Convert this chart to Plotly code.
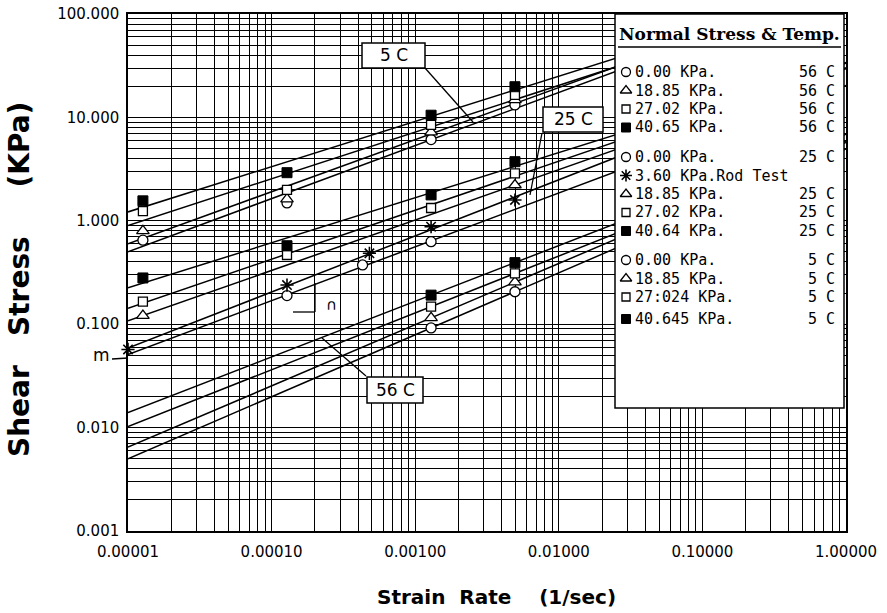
import numpy as np
import plotly.graph_objects as go

# ---------------- data ----------------
# 56 C
x_56 = [1.29e-3, 4.95e-3]
y_56_000 = [0.092, 0.206]
y_56_1885 = [0.115, 0.255]
y_56_2702 = [0.148, 0.310]
y_56_4065 = [0.191, 0.394]

# 25 C
x_25_000 = [1.28e-4, 4.3e-4, 1.29e-3]
y_25_000 = [0.189, 0.374, 0.628]
x_25_rod = [1.0e-5, 1.28e-4, 4.8e-4, 1.29e-3, 4.95e-3]
y_25_rod = [0.057, 0.239, 0.485, 0.877, 1.59]
x_25_1885 = [1.27e-5, 4.95e-3]
y_25_1885 = [0.121, 2.22]
x_25_2702 = [1.27e-5, 1.28e-4, 1.29e-3, 4.95e-3]
y_25_2702 = [0.165, 0.467, 1.33, 2.88]
x_25_4064 = [1.27e-5, 1.28e-4, 1.29e-3, 4.95e-3]
y_25_4064 = [0.28, 0.574, 1.78, 3.73]

# 5 C
x_5 = [1.27e-5, 1.28e-4, 1.29e-3, 4.95e-3]
y_5_000 = [0.65, 1.49, 6.1, 13.2]
y_5_1885 = [0.80, 1.62, 7.2, 14.8]
y_5_27024 = [1.24, 1.99, 8.45, 16.5]
y_5_40645 = [1.56, 2.92, 10.5, 19.8]

x_tick_vals = [1e-5, 1e-4, 1e-3, 1e-2, 1e-1, 1.0]
x_tick_text = ["0.00001", "0.00010", "0.00100", "0.01000", "0.10000", "1.00000"]
y_tick_vals = [1e-3, 1e-2, 1e-1, 1.0, 10.0, 100.0]
y_tick_text = ["0.001", "0.010", "0.100", "1.000", "10.000", "100.000"]

legend_labels = [
    ("0.00 KPa.", "56 C"), ("18.85 KPa.", "56 C"), ("27.02 KPa.", "56 C"), ("40.65 KPa.", "56 C"),
    ("0.00 KPa.", "25 C"), ("3.60 KPa.Rod Test", ""), ("18.85 KPa.", "25 C"), ("27.02 KPa.", "25 C"),
    ("40.64 KPa.", "25 C"),
    ("0.00 KPa.", "5 C"), ("18.85 KPa.", "5 C"), ("27:024 KPa.", "5 C"), ("40.645 KPa.", "5 C"),
]

# ---------------- styles ----------------
W, H = 887, 613
L, R, T, B = 128, 846, 14, 531

def fx(px):
    return (px - L) / (R - L)

def fy(py):
    return (B - py) / (B - T)

sty = {
    "o": dict(symbol="circle", size=10, color="white", line=dict(color="black", width=1.3)),
    "t": dict(symbol="triangle-up", size=11, color="white", line=dict(color="black", width=1.3)),
    "s": dict(symbol="square", size=9, color="white", line=dict(color="black", width=1.3)),
    "f": dict(symbol="square", size=10, color="black", line=dict(color="black", width=1)),
    "a": dict(symbol="asterisk-open", size=11, color="black", line=dict(color="black", width=1.6)),
}

series = [
    (x_56, y_56_000, "o"), (x_56, y_56_1885, "t"), (x_56, y_56_2702, "s"), (x_56, y_56_4065, "f"),
    (x_25_000, y_25_000, "o"), (x_25_rod, y_25_rod, "a"), (x_25_1885, y_25_1885, "t"),
    (x_25_2702, y_25_2702, "s"), (x_25_4064, y_25_4064, "f"),
    (x_5, y_5_000, "o"), (x_5, y_5_1885, "t"), (x_5, y_5_27024, "s"), (x_5, y_5_40645, "f"),
]

fig = go.Figure()

# fitted power-law lines (regression in log-log space)
x_line = np.array([1e-5, 1.0])
for xs, ys, _ in series:
    k, c = np.polyfit(np.log10(xs), np.log10(ys), 1)
    fig.add_trace(go.Scatter(x=x_line, y=10 ** (k * np.log10(x_line) + c), mode="lines",
                             line=dict(color="black", width=1.5), showlegend=False,
                             hoverinfo="skip"))

# data markers
for xs, ys, m in series:
    fig.add_trace(go.Scatter(x=xs, y=ys, mode="markers", marker=sty[m], showlegend=False,
                             cliponaxis=False))

# legend box on a pixel-coordinate overlay
LX0, LX1, LY0, LY1 = 615, 844, 14, 408
fig.add_trace(go.Scatter(x=[LX0, LX1, LX1, LX0, LX0], y=[LY0, LY0, LY1, LY1, LY0],
                         xaxis="x2", yaxis="y2", mode="lines", fill="toself",
                         fillcolor="white", line=dict(color="black", width=1.5),
                         showlegend=False, hoverinfo="skip"))
leg_y = [72, 90.5, 109, 127.5, 157, 175.5, 194, 212.5, 231, 260, 278.5, 297, 319]
leg_m = ["o", "t", "s", "f", "o", "a", "t", "s", "f", "o", "t", "s", "f"]
for yy, m in zip(leg_y, leg_m):
    mk = dict(sty[m])
    mk["size"] = mk["size"] - 1
    fig.add_trace(go.Scatter(x=[626], y=[yy], xaxis="x2", yaxis="y2", mode="markers",
                             marker=mk, showlegend=False, hoverinfo="skip"))
fig.add_trace(go.Scatter(x=[618, 841], y=[47, 47], xaxis="x2", yaxis="y2", mode="lines",
                         line=dict(color="black", width=1.3), showlegend=False,
                         hoverinfo="skip"))

tickfont = dict(family="DejaVu Sans", size=15, color="black")
lfont = dict(family="DejaVu Sans Mono", size=15, color="black")
NB = "\u00a0"

annotations = []

def ann(px, py, text, font, xanchor="center", **kw):
    d = dict(x=fx(px), y=fy(py), xref="paper", yref="paper", text=text, showarrow=False,
             xanchor=xanchor, yanchor="middle", font=font, borderpad=0)
    d.update(kw)
    annotations.append(d)

ann(729, 34, "<b>Normal Stress &amp; Temp.</b>",
    dict(family="DejaVu Serif", size=17, color="black"))
for (lt, rt), yy in zip(legend_labels, leg_y):
    ann(634, yy, lt, lfont, xanchor="left")
    if rt:
        ann(836, yy, rt, lfont, xanchor="right")

# temperature label boxes
boxes = [("5 C", 362, 425, 43, 68), ("25 C", 543, 603, 107, 132), ("56 C", 367, 423, 377, 403)]
shapes = []
for txt, x0, x1, y0, y1 in boxes:
    shapes.append(dict(type="rect", xref="paper", yref="paper", x0=fx(x0), x1=fx(x1),
                       y0=fy(y0), y1=fy(y1), fillcolor="white",
                       line=dict(color="black", width=1.5), layer="above"))
    ann((x0 + x1) / 2, (y0 + y1) / 2, txt, dict(family="DejaVu Sans", size=17, color="black"))
leaders = [(425, 68, 473, 122), (542, 133, 530, 195), (366, 376, 322, 338),
           (112, 359, 128, 358), (315, 283, 315, 312), (293, 312, 315, 312)]
for x0, y0, x1, y1 in leaders:
    shapes.append(dict(type="line", xref="paper", yref="paper", x0=fx(x0), y0=fy(y0),
                       x1=fx(x1), y1=fy(y1), line=dict(color="black", width=1.3),
                       layer="above"))
ann(101, 355, "m", dict(family="DejaVu Sans", size=17, color="black"))
ann(331, 305, "∩", dict(family="DejaVu Sans", size=15, color="black"))

# axis titles
ann(20, 280, "<b>Shear" + NB * 3 + "Stress" + NB * 5 + "(KPa)</b>",
    dict(family="DejaVu Sans", size=28, color="black"), textangle=-90)
ann(496, 597, "<b>Strain" + NB * 2 + "Rate" + NB * 4 + "(1/sec)</b>",
    dict(family="DejaVu Sans", size=20, color="black"))

def grid_vals(lo, hi):
    v = []
    for e in range(lo, hi):
        for k in range(1, 10):
            v.append(k * 10.0 ** e)
    v.append(10.0 ** hi)
    return v

gx = grid_vals(-5, 0)
gy = grid_vals(-3, 2)
xt = [x_tick_text[x_tick_vals.index(v)] if v in x_tick_vals else "" for v in gx]
yt = [y_tick_text[y_tick_vals.index(v)] if v in y_tick_vals else "" for v in gy]

fig.update_layout(
    width=W, height=H,
    margin=dict(l=L, r=W - R, t=T, b=H - B, autoexpand=False),
    paper_bgcolor="white", plot_bgcolor="white",
    showlegend=False,
    xaxis=dict(type="log", range=[-5, 0], tickmode="array", tickvals=gx, ticktext=xt,
               showgrid=True, gridcolor="black", gridwidth=1, zeroline=False,
               showline=True, linecolor="black", linewidth=1.5, mirror=True,
               ticks="", tickfont=tickfont, ticklabelstandoff=6, automargin=False),
    yaxis=dict(type="log", range=[-3, 2], tickmode="array", tickvals=gy, ticktext=yt,
               showgrid=True, gridcolor="black", gridwidth=1, zeroline=False,
               showline=True, linecolor="black", linewidth=1.5, mirror=True,
               ticks="", tickfont=tickfont, ticklabelstandoff=4, automargin=False),
    xaxis2=dict(overlaying="x", range=[L, R], visible=False, fixedrange=True),
    yaxis2=dict(overlaying="y", range=[B, T], visible=False, fixedrange=True),
    annotations=annotations,
    shapes=shapes,
)

fig.write_html("out.html", config={"displayModeBar": False},
               post_script="document.body.style.margin='0px';"
                           "document.body.style.overflow='hidden';")
